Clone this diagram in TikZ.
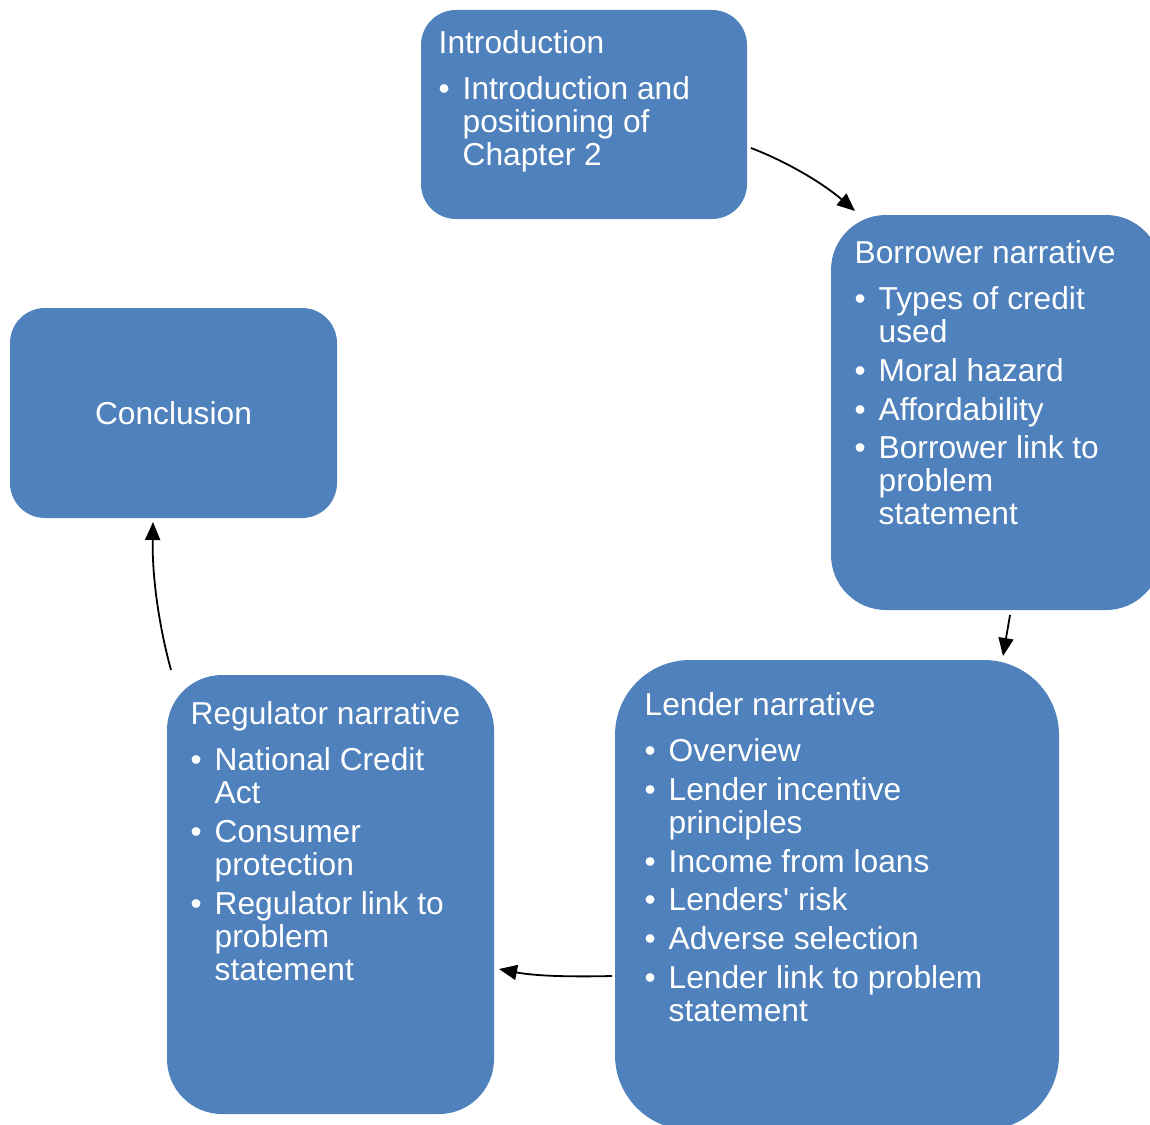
\documentclass[tikz,border=0pt]{standalone}
\usepackage{fontspec}
\setmainfont{Liberation Sans}
\usetikzlibrary{arrows.meta}
\definecolor{boxblue}{RGB}{79,129,189}
\tikzset{
  panel/.style={draw=none, fill=boxblue, anchor=north west, inner sep=0pt, outer sep=0pt},
  boxtext/.style={text=white, anchor=base west, inner sep=0pt, font=\fontsize{31.7}{33}\selectfont},
  cyc/.style={-{Triangle[length=18pt,width=15pt]}, line width=1.8pt, black}
}
% heading line of a panel, then a bulleted entry with a hanging indent
\newcommand\hdr[1]{{\leftskip=0pt\relax #1\par}\vspace{7.6pt}}
\newcommand\itm[1]{\noindent\hspace*{-24pt}\makebox[24pt][l]{\textbullet}#1\par}
\newcommand\panelbody[1]{\parbox[t]{420pt}{\raggedright\leftskip=24pt\relax\parskip=5.7pt\relax\parindent=0pt\relax #1}}
\begin{document}
\begin{tikzpicture}[x=1pt, y=-1pt]
  \useasboundingbox (0,0) rectangle (1150,1124);
  \clip (0,0) rectangle (1150,1124);

  % panels
  \node[panel, minimum width=326pt, minimum height=209pt, rounded corners=35pt] (intro) at (421,10) {};
  \node[panel, minimum width=330pt, minimum height=395pt, rounded corners=55pt] (borrower) at (831,215) {};
  \node[panel, minimum width=444pt, minimum height=470pt, rounded corners=75pt] (lender) at (615,660) {};
  \node[panel, minimum width=327pt, minimum height=439pt, rounded corners=55pt] (regulator) at (167,675) {};
  \node[panel, minimum width=327pt, minimum height=210pt, rounded corners=35pt] (concl) at (10,308) {};

  % panel texts
  \node[boxtext] (intro-txt) at (438.5,53.5) {\panelbody{%
    \hdr{Introduction}
    \itm{Introduction and\\positioning of\\Chapter 2}}};
  \node[boxtext] (borrower-txt) at (854.5,263.5) {\panelbody{%
    \hdr{Borrower narrative}
    \itm{Types of credit\\used}
    \itm{Moral hazard}
    \itm{Affordability}
    \itm{Borrower link to\\problem\\statement}}};
  \node[boxtext] (lender-txt) at (644.5,715.5) {\panelbody{%
    \hdr{Lender narrative}
    \itm{Overview}
    \itm{Lender incentive\\principles}
    \itm{Income from loans}
    \itm{Lenders\textquotesingle\ risk}
    \itm{Adverse selection}
    \itm{Lender link to problem\\statement}}};
  \node[boxtext] (regulator-txt) at (190.5,724.5) {\panelbody{%
    \hdr{Regulator narrative}
    \itm{National Credit\\Act}
    \itm{Consumer\\protection}
    \itm{Regulator link to\\problem\\statement}}};
  \node[boxtext, anchor=center] (concl-txt) at (concl.center) {Conclusion};

  % cycle arrows
  \draw[cyc] ([shift={(4,33.5)}]intro.east)
    .. controls +(39,15) and +(-30,-26) .. ([shift={(24,-4)}]borrower.north west);
  \draw[cyc] ([shift={(14,5)}]borrower.south)
    .. controls +(-2,12) and +(2,-12) .. ([shift={(388,-4)}]lender.north west);
  \draw[cyc] ([shift={(-3,81)}]lender.west)
    .. controls +(-42,1) and +(36,7) .. ([shift={(5,74.5)}]regulator.east);
  \draw[cyc] ([shift={(4,-5)}]regulator.north west)
    .. controls +(-11,-40) and +(-1,58) .. ([shift={(143,4)}]concl.south west);
\end{tikzpicture}
\end{document}
